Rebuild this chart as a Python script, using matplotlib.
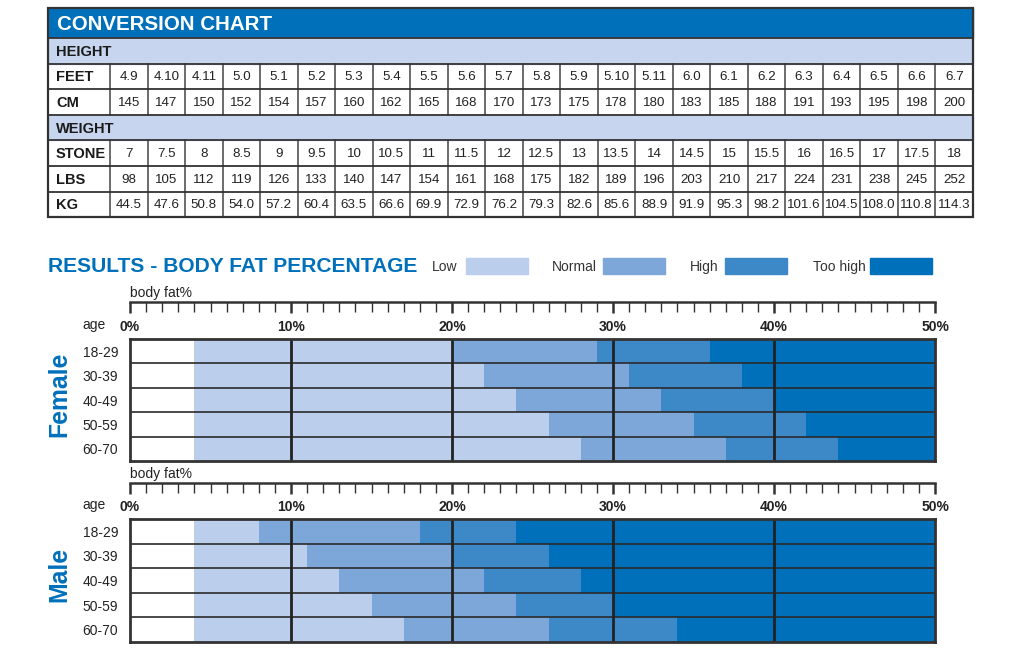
import matplotlib
matplotlib.use("Agg")
import matplotlib.pyplot as plt  # plotting
from matplotlib.patches import Rectangle
import numpy as np

plt.rcParams["font.family"] = ["Liberation Sans", "DejaVu Sans"]

# Conversion table values
FEET = ["4.9", "4.10", "4.11", "5.0", "5.1", "5.2", "5.3", "5.4", "5.5", "5.6", "5.7", "5.8",
        "5.9", "5.10", "5.11", "6.0", "6.1", "6.2", "6.3", "6.4", "6.5", "6.6", "6.7"]
CM = ["145", "147", "150", "152", "154", "157", "160", "162", "165", "168", "170", "173",
      "175", "178", "180", "183", "185", "188", "191", "193", "195", "198", "200"]
STONE = ["7", "7.5", "8", "8.5", "9", "9.5", "10", "10.5", "11", "11.5", "12", "12.5",
         "13", "13.5", "14", "14.5", "15", "15.5", "16", "16.5", "17", "17.5", "18"]
LBS = ["98", "105", "112", "119", "126", "133", "140", "147", "154", "161", "168", "175",
       "182", "189", "196", "203", "210", "217", "224", "231", "238", "245", "252"]
KG = ["44.5", "47.6", "50.8", "54.0", "57.2", "60.4", "63.5", "66.6", "69.9", "72.9", "76.2", "79.3",
      "82.6", "85.6", "88.9", "91.9", "95.3", "98.2", "101.6", "104.5", "108.0", "110.8", "114.3"]

# Body fat ranges (percent), one value per age group
AGE_GROUPS = ["18-29", "30-39", "40-49", "50-59", "60-70"]
LOW_START = 4
SCALE_MAX = 50
FEMALE_LOW_END = [20, 22, 24, 26, 28]
FEMALE_NORMAL_END = [29, 31, 33, 35, 37]
FEMALE_HIGH_END = [36, 38, 40, 42, 44]
MALE_LOW_END = [8, 11, 13, 15, 17]
MALE_NORMAL_END = [18, 20, 22, 24, 26]
MALE_HIGH_END = [24, 26, 28, 30, 34]

LEVELS = ["Low", "Normal", "High", "Too high"]
LEVEL_COLORS = ["#BBCEEB", "#7DA7D8", "#3D89C8", "#0070BB"]
BLUE = "#0070BB"
LIGHT = "#C7D5EE"
DARK = "#222222"

W, H = 1024, 657
fig = plt.figure(figsize=(W / 100, H / 100), dpi=100)
bg = fig.add_axes([0, 0, 1, 1])
bg.set_xlim(0, W)
bg.set_ylim(H, 0)
bg.axis("off")


def draw_table(ax):
    x0, x1 = 48, 973
    lab_w = 62
    ncol = len(FEET)
    col_w = (x1 - x0 - lab_w) / ncol
    title_h, row_h = 30, 25.6
    rows = [("HEIGHT", None), ("FEET", FEET), ("CM", CM),
            ("WEIGHT", None), ("STONE", STONE), ("LBS", LBS), ("KG", KG)]
    y = 8
    # title bar
    ax.add_patch(Rectangle((x0, y), x1 - x0, title_h, color=BLUE, zorder=1))
    ax.text(x0 + 9, y + title_h / 2 + 1, "CONVERSION CHART", color="white",
            fontsize=14.8, fontweight="bold", va="center", ha="left")
    y += title_h
    for name, vals in rows:
        if vals is None:
            ax.add_patch(Rectangle((x0, y), x1 - x0, row_h, color=LIGHT, zorder=1))
        ax.text(x0 + 8, y + row_h / 2 + 1, name, fontsize=10.5,
                fontweight="bold", color="#1a1a1a", va="center", ha="left")
        if vals is not None:
            for i, v in enumerate(vals):
                cx = x0 + lab_w + (i + 0.5) * col_w
                ax.text(cx, y + row_h / 2 + 1, v, fontsize=9.6,
                        color="#222222", va="center", ha="center")
                ax.plot([x0 + lab_w + i * col_w] * 2, [y, y + row_h],
                        color="#444444", lw=1.1, zorder=3)
        ax.plot([x0, x1], [y, y], color="#333333", lw=1.3, zorder=3)
        y += row_h
    ax.add_patch(Rectangle((x0, 8), x1 - x0, y - 8, fill=False,
                           edgecolor="#333333", lw=1.6, zorder=4))


def draw_legend(ax):
    ax.text(48, 267, "RESULTS - BODY FAT PERCENTAGE", color=BLUE, fontsize=15.1,
            fontweight="bold", va="center", ha="left")
    text_x = [432, 552, 690, 813]
    box_x = [466, 603, 725, 870]
    for name, tx, bx, c in zip(LEVELS, text_x, box_x, LEVEL_COLORS):
        ax.text(tx, 267, name, fontsize=10, color="#333333", va="center", ha="left")
        ax.add_patch(Rectangle((bx, 258), 62, 16, color=c))


def draw_bars(top, bottom, ruler_y, low_end, normal_end, high_end, sex):
    left, right = 130, 935
    n = len(AGE_GROUPS)
    ax = fig.add_axes([left / W, 1 - bottom / H, (right - left) / W, (bottom - top) / H])
    yy = np.arange(n)
    low_end = np.array(low_end)
    normal_end = np.array(normal_end)
    high_end = np.array(high_end)
    starts = [np.full(n, LOW_START), low_end, normal_end, high_end]
    ends = [low_end, normal_end, high_end, np.full(n, SCALE_MAX)]
    for s, e, c in zip(starts, ends, LEVEL_COLORS):
        ax.barh(yy, e - s, left=s, height=1.0, color=c, edgecolor="none")
    ax.set_xlim(0, SCALE_MAX)
    ax.set_ylim(n - 0.5, -0.5)
    for k in range(1, n):
        ax.axhline(k - 0.5, color="#2a2a2a", lw=1.2)
    for v in range(10, SCALE_MAX, 10):
        ax.axvline(v, color=DARK, lw=2)
    for sp in ax.spines.values():
        sp.set_linewidth(2)
        sp.set_color("#333333")
    ax.set_yticks(yy, AGE_GROUPS)
    ax.tick_params(axis="y", length=0, pad=8.5, labelsize=10, labelcolor="#222222")
    ax.xaxis.tick_top()
    ax.set_xticks(range(0, SCALE_MAX + 1, 10),
                  [f"{v}%" for v in range(0, SCALE_MAX + 1, 10)])
    ax.tick_params(axis="x", length=0, pad=3.5, labelsize=10, labelcolor="#222222")
    for lab in ax.get_xticklabels():
        lab.set_fontweight("bold")

    # ruler above the percent labels
    axr = fig.add_axes([left / W, 1 - (ruler_y + 8) / H, (right - left) / W, 8 / H])
    axr.set_xlim(0, SCALE_MAX)
    axr.patch.set_alpha(0)
    for k in ["left", "right", "bottom"]:
        axr.spines[k].set_visible(False)
    axr.spines["top"].set_linewidth(1.8)
    axr.spines["top"].set_color("#333333")
    axr.set_yticks([])
    axr.xaxis.tick_top()
    axr.set_xticks(range(0, SCALE_MAX + 1, 10), [""] * 6)
    axr.set_xticks(range(0, SCALE_MAX + 1), minor=True)
    axr.tick_params(axis="x", which="major", direction="in", length=8, width=1.8, color="#333333")
    axr.tick_params(axis="x", which="minor", direction="in", length=7, width=1.0, color="#333333")

    bg.text(130, ruler_y - 9, "body fat%", fontsize=10, color="#222222", va="center", ha="left")
    bg.text(82, top - 14, "age", fontsize=10, color="#222222", va="center", ha="left")
    bg.text(59, (top + bottom) / 2 - 6, sex, rotation=90, color=BLUE, fontsize=17.8,
            fontweight="bold", va="center", ha="center")


draw_table(bg)
draw_legend(bg)
draw_bars(339, 461, 302, FEMALE_LOW_END, FEMALE_NORMAL_END, FEMALE_HIGH_END, "Female")
draw_bars(519, 642, 483, MALE_LOW_END, MALE_NORMAL_END, MALE_HIGH_END, "Male")

fig.savefig("out.png", dpi=100)
